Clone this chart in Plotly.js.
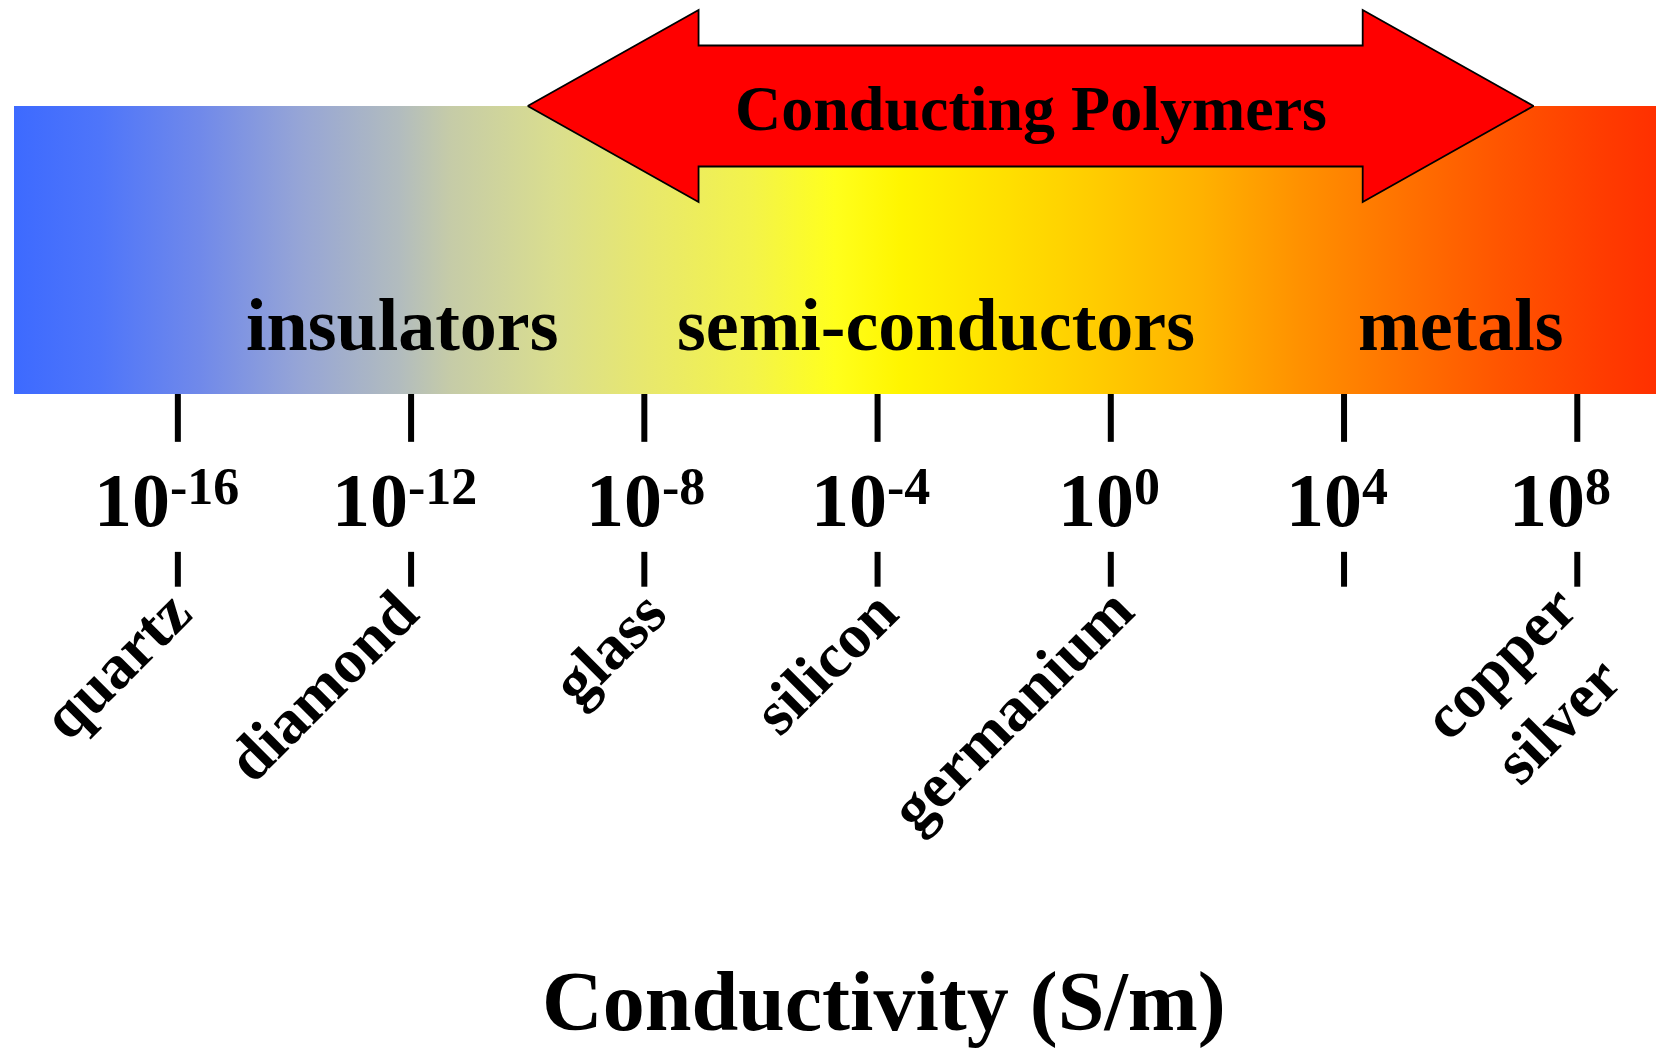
<!DOCTYPE html>
<html>
<head>
<meta charset="utf-8">
<script src="https://cdn.plot.ly/plotly-3.0.1.min.js"></script>
<style>
  html, body { margin: 0; padding: 0; background: #ffffff; }
  #chart { width: 1656px; height: 1049px; }
</style>
</head>
<body>
<div id="chart"></div>
<script>
// ---------------- DATA (log10 of conductivity, S/m) ----------------
const scaleRange = [-18.81, 9.35];                       // extent of the conductivity band
const tickExponents = [-16, -12, -8, -4, 0, 4, 8];
const tickBase = '10';
const tickSup = ['-16', '-12', '-8', '-4', '0', '4', '8'];
const materialNames = ['quartz', 'diamond', 'glass', 'silicon', 'germanium', 'copper<br>silver'];
const materialExponents = [-16, -12, -8, -4, 0, 8];
const classNames = ['insulators', 'semi-conductors', 'metals'];
const classCenters = [-12.15, -3.0, 6.0];
const polymerRange = [-10.0, 7.25];
const polymerLabel = 'Conducting Polymers';
const axisTitle = 'Conductivity (S/m)';

// ---------------- STYLE ----------------
const FONT = 'Liberation Serif, Times New Roman, Times, serif';
const gradient = [
  [0.000, 'rgb(61,106,255)'],
  [0.052, 'rgb(78,117,250)'],
  [0.113, 'rgb(112,137,234)'],
  [0.174, 'rgb(150,165,214)'],
  [0.235, 'rgb(178,188,190)'],
  [0.265, 'rgb(197,203,168)'],
  [0.330, 'rgb(218,222,142)'],
  [0.387, 'rgb(232,232,108)'],
  [0.448, 'rgb(243,243,75)'],
  [0.500, 'rgb(255,255,28)'],
  [0.540, 'rgb(255,245,0)'],
  [0.600, 'rgb(255,225,0)'],
  [0.661, 'rgb(255,203,0)'],
  [0.722, 'rgb(255,178,0)'],
  [0.783, 'rgb(255,145,0)'],
  [0.844, 'rgb(255,115,0)'],
  [0.905, 'rgb(255,85,0)'],
  [0.966, 'rgb(255,60,0)'],
  [1.000, 'rgb(255,48,0)']
];
const bandY = [0, 1];             // band occupies y 0..1
const arrowHalfHead = 0.333, arrowHalfShaft = 0.21, arrowHeadLen = 2.93, arrowY = 1.0;
const upperTick = [0, -0.166], lowerTick = [-0.548, -0.669];
const TICK_MAIN = 76, TICK_SUP = 52;
const tickNudge = [-11, -6, 1, -7, -2, -7, -17];            // px, label placement tweaks
const MAT_SIZE = 63;
const matNudge = [[26, 0], [20, 0], [35, 0], [34, 0], [35, -2], [70, 0]];  // px [x, y]

// text width measurement (same font as the SVG text)
const ctx = document.createElement('canvas').getContext('2d');
function textW(t, size) { ctx.font = 'bold ' + size + 'px "Liberation Serif"'; return ctx.measureText(t).width; }

// ---------------- TRACES ----------------
const band = {
  type: 'scatter', mode: 'lines', hoverinfo: 'skip',
  x: [scaleRange[0], scaleRange[1], scaleRange[1], scaleRange[0], scaleRange[0]],
  y: [bandY[0], bandY[0], bandY[1], bandY[1], bandY[0]],
  fill: 'toself', line: { width: 0, color: 'rgba(0,0,0,0)' },
  fillgradient: { type: 'horizontal', colorscale: gradient, start: scaleRange[0], stop: scaleRange[1] }
};

const [pL, pR] = polymerRange;
const arrow = {
  type: 'scatter', mode: 'lines', hoverinfo: 'skip',
  x: [pL, pL + arrowHeadLen, pL + arrowHeadLen, pR - arrowHeadLen, pR - arrowHeadLen, pR,
      pR - arrowHeadLen, pR - arrowHeadLen, pL + arrowHeadLen, pL + arrowHeadLen, pL],
  y: [arrowY, arrowY + arrowHalfHead, arrowY + arrowHalfShaft, arrowY + arrowHalfShaft,
      arrowY + arrowHalfHead, arrowY, arrowY - arrowHalfHead, arrowY - arrowHalfShaft,
      arrowY - arrowHalfShaft, arrowY - arrowHalfHead, arrowY],
  fill: 'toself', fillcolor: '#ff0000', line: { color: '#000000', width: 1.8 }
};

const tx = [], ty = [];
tickExponents.forEach(e => {
  tx.push(e, e, null, e, e, null);
  ty.push(upperTick[0], upperTick[1], null, lowerTick[0], lowerTick[1], null);
});
const ticks = {
  type: 'scatter', mode: 'lines', hoverinfo: 'skip', x: tx, y: ty,
  line: { color: '#000000', width: 6 }
};

// ---------------- ANNOTATIONS ----------------
const base = { xref: 'x', yref: 'y', showarrow: false, borderpad: 0, borderwidth: 0 };
const annotations = [];
classNames.forEach((n, i) => annotations.push(Object.assign({}, base, {
  x: classCenters[i], y: 0.24, text: n, xanchor: 'center', yanchor: 'middle',
  font: { family: FONT, size: 74, color: '#000', weight: 'bold' }
})));
annotations.push(Object.assign({}, base, {
  x: (pL + pR) / 2, y: 0.992, text: polymerLabel, xanchor: 'center', yanchor: 'middle',
  font: { family: FONT, size: 64, color: '#000', weight: 'bold' }
}));
tickExponents.forEach((e, i) => {
  const wb = textW(tickBase, TICK_MAIN), ws = textW(tickSup[i], TICK_SUP);
  const left = -(wb + ws) / 2 + tickNudge[i];
  annotations.push(Object.assign({}, base, {
    x: e, y: -0.369, text: tickBase, xanchor: 'left', yanchor: 'middle', xshift: left,
    font: { family: FONT, size: TICK_MAIN, color: '#000', weight: 'bold' }
  }));
  annotations.push(Object.assign({}, base, {
    x: e, y: -0.321, text: tickSup[i], xanchor: 'left', yanchor: 'middle', xshift: left + wb,
    font: { family: FONT, size: TICK_SUP, color: '#000', weight: 'bold' }
  }));
});
materialNames.forEach((n, i) => {
  const lines = n.split('<br>').length;
  annotations.push(Object.assign({}, base, {
    x: materialExponents[i], y: lines > 1 ? -0.620 : -0.635,
    text: n, textangle: -45, xanchor: 'right', yanchor: 'top',
    xshift: matNudge[i][0], yshift: -matNudge[i][1],
    font: { family: FONT, size: MAT_SIZE, color: '#000', weight: 'bold' }
  }));
});
annotations.push(Object.assign({}, base, {
  x: 0.530, y: -2.110, xref: 'paper', text: axisTitle, xanchor: 'center', yanchor: 'middle',
  font: { family: FONT, size: 84, color: '#000', weight: 'bold' }
}));

const layout = {
  width: 1656, height: 1049,
  margin: { l: 14, r: 0, t: 0, b: 0, pad: 0 },
  paper_bgcolor: '#ffffff', plot_bgcolor: '#ffffff',
  showlegend: false,
  xaxis: { range: scaleRange, visible: false, fixedrange: true },
  yaxis: { range: [-2.274, 1.368], visible: false, fixedrange: true },
  annotations: annotations
};

Plotly.newPlot('chart', [band, arrow, ticks], layout, { displayModeBar: false, staticPlot: true });
</script>
</body>
</html>
